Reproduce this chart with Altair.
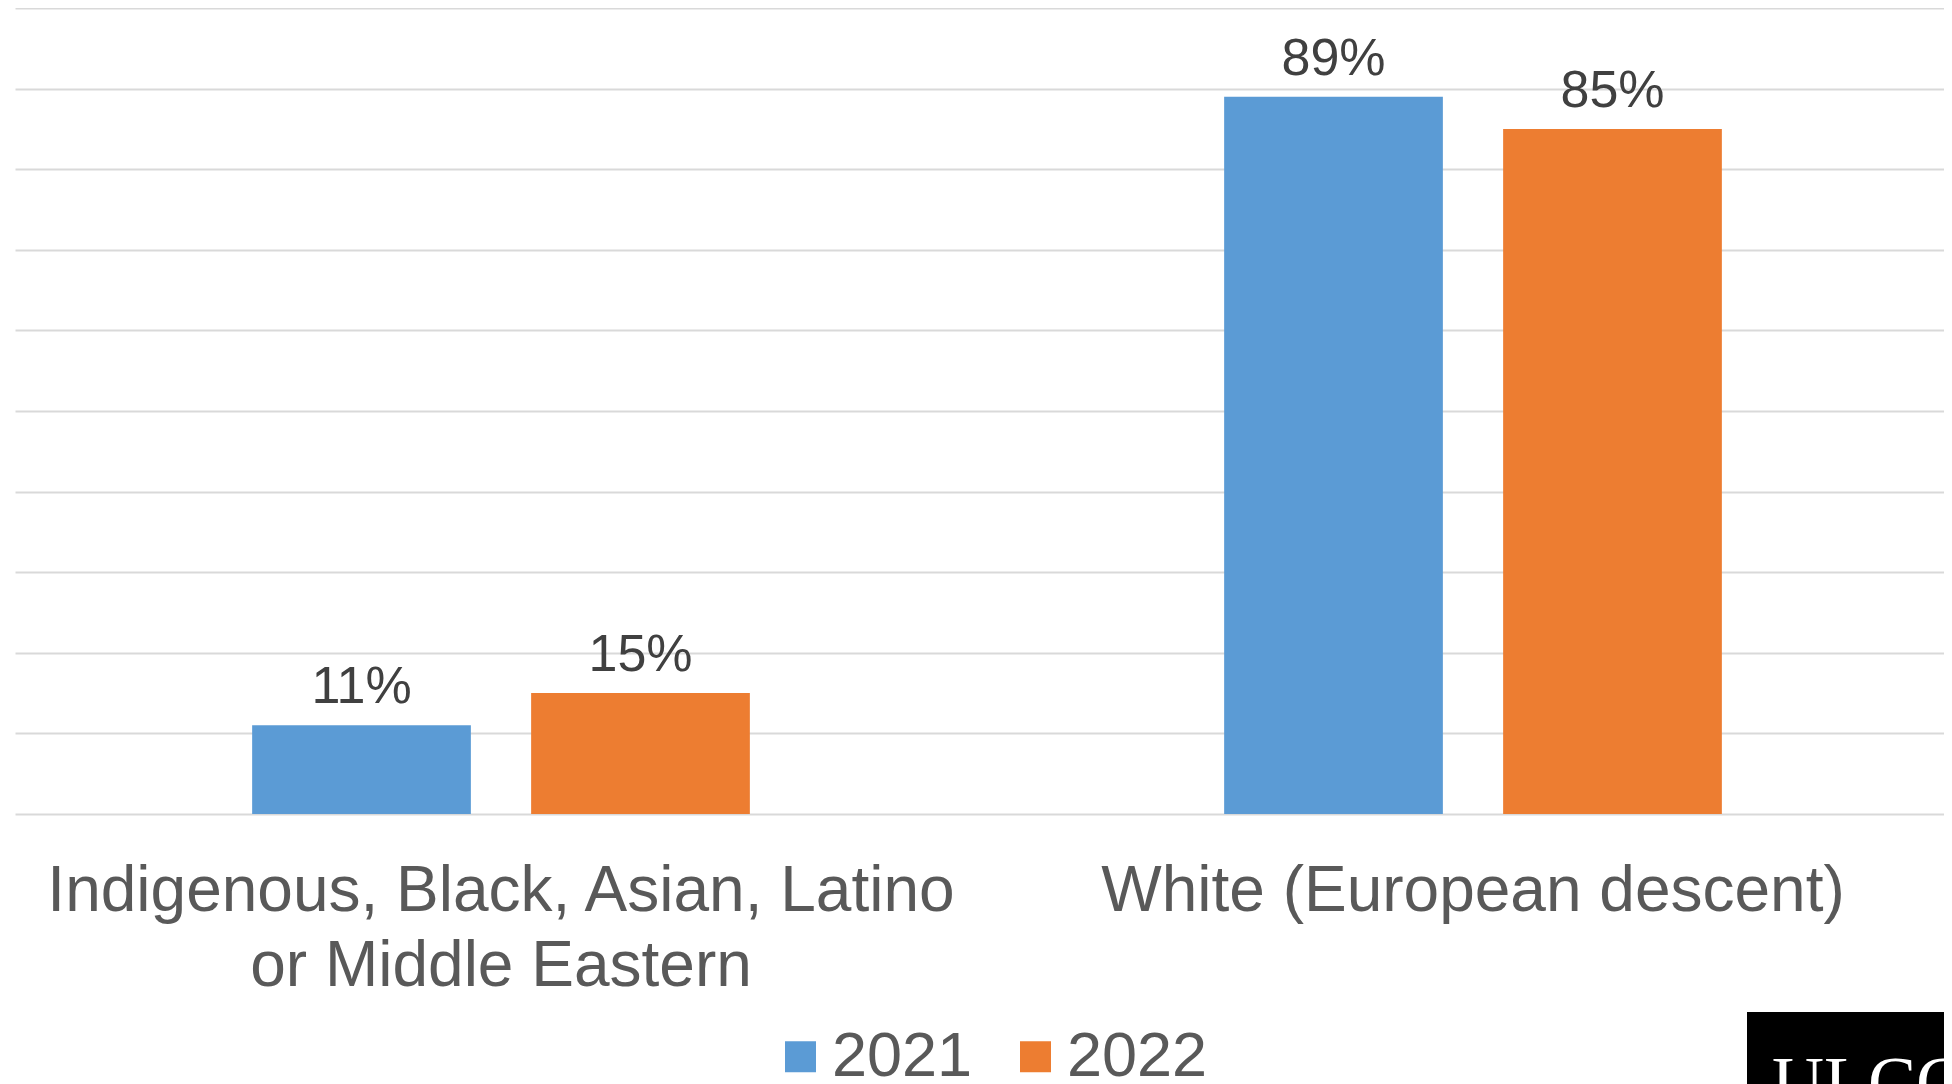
import altair as alt
import pandas as pd

categories = ["Indigenous, Black, Asian, Latino|or Middle Eastern", "White (European descent)"]
years = ["2021", "2022"]
values_2021 = [11, 89]
values_2022 = [15, 85]
colors = ["#5B9BD5", "#ED7D31"]

rows = []
for i, c in enumerate(categories):
    rows.append({"category": c, "year": years[0], "value": values_2021[i]})
    rows.append({"category": c, "year": years[1], "value": values_2022[i]})
df = pd.DataFrame(rows)

FONT = "Liberation Sans"
PLOT_W = 1944
PLOT_H = 806

x_enc = alt.X(
    "category:N",
    sort=categories,
    scale=alt.Scale(paddingInner=0, paddingOuter=0),
    axis=alt.Axis(
        title=None,
        labelAngle=0,
        labelExpr="split(datum.label, '|')",
        labelFont=FONT,
        labelFontSize=64,
        labelColor="#595959",
        labelLineHeight=75,
        labelPadding=45,
        labelLimit=2000,
        labelBaseline="top",
        ticks=False,
        domain=True,
        domainColor="#D9D9D9",
        domainWidth=2,
        grid=False,
    ),
)
xoff_enc = alt.XOffset(
    "year:N",
    sort=years,
    scale=alt.Scale(paddingInner=0.216, paddingOuter=0.85),
)
y_enc = alt.Y(
    "value:Q",
    scale=alt.Scale(domain=[0, 100], nice=False),
    axis=alt.Axis(
        title=None,
        labels=False,
        ticks=False,
        domain=False,
        grid=True,
        values=list(range(10, 101, 10)),
        gridColor="#D9D9D9",
        gridWidth=2,
    ),
)

base = alt.Chart(df)

bars = base.mark_bar().encode(
    x=x_enc,
    xOffset=xoff_enc,
    y=y_enc,
    color=alt.Color(
        "year:N",
        sort=years,
        scale=alt.Scale(domain=years, range=colors),
        legend=alt.Legend(
            title=None,
            orient="none",
            legendX=754,
            legendY=1017,
            direction="horizontal",
            symbolType="square",
            symbolSize=961,
            symbolStrokeWidth=0,
            labelFont=FONT,
            labelFontSize=63,
            labelColor="#595959",
            labelOffset=0,
            columnPadding=31,
            labelLimit=500,
        ),
    ),
)

labels = base.transform_calculate(
    label="datum.value + '%'"
).mark_text(
    baseline="alphabetic",
    dy=-22,
    font=FONT,
    fontSize=52,
    color="#404040",
).encode(
    x=alt.X("category:N", sort=categories),
    xOffset=alt.XOffset("year:N", sort=years),
    y=alt.Y("value:Q"),
    text="label:N",
)

logo_df = pd.DataFrame({"logo": ["ULCC"]})
logo_box = alt.Chart(logo_df).mark_rect(color="black").encode(
    x=alt.value(1732), x2=alt.value(1950), y=alt.value(1004), y2=alt.value(1090)
)
logo_text = alt.Chart(logo_df).mark_text(
    font="Liberation Serif", fontSize=72, color="white", align="left", baseline="top"
).encode(x=alt.value(1757), y=alt.value(1041), text="logo:N")

chart = alt.layer(bars, labels, logo_box, logo_text).properties(
    width=PLOT_W,
    height=PLOT_H,
    autosize=alt.AutoSizeParams(type="none"),
    padding={"left": 7, "top": 0, "right": -15, "bottom": 270},
    background="white",
).configure_view(stroke=None)

chart.save("out.html", embed_options={"renderer": "svg", "actions": False})
